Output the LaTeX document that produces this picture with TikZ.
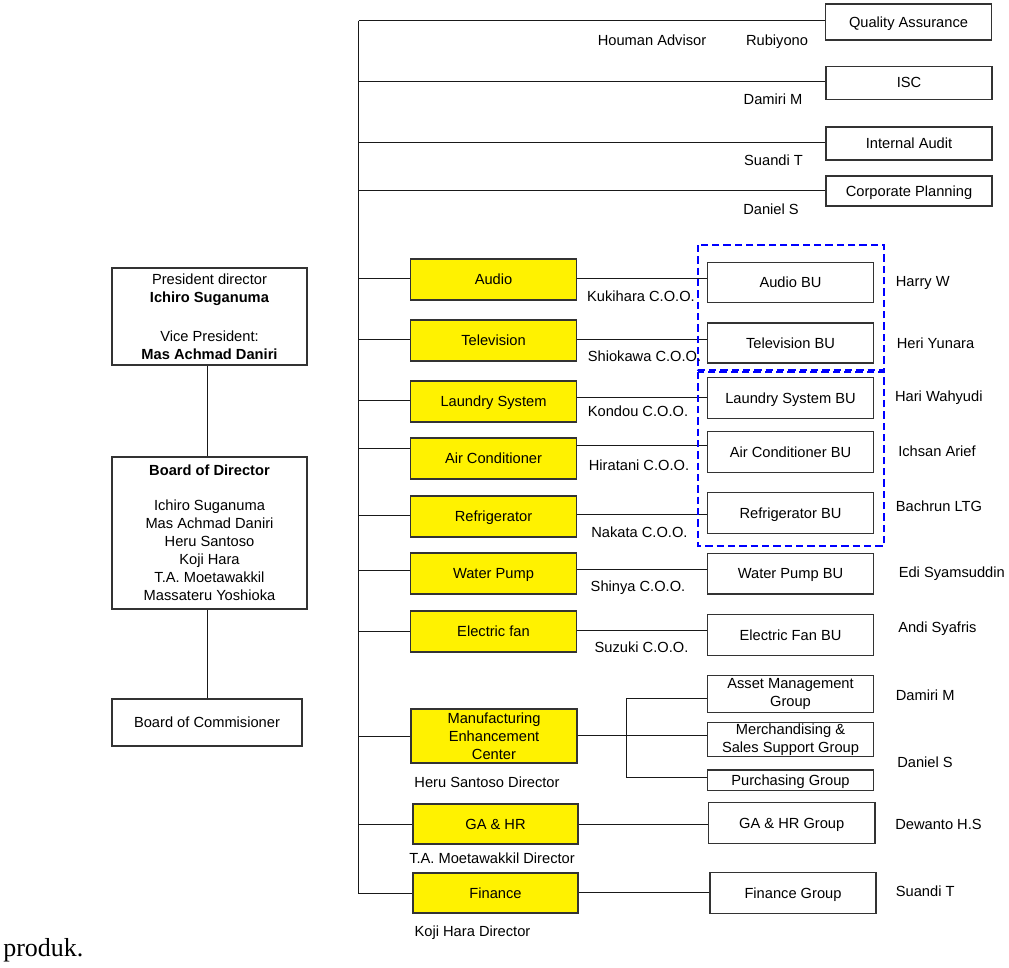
\documentclass[tikz,border=0pt]{standalone}
\usepackage{fontspec}
\setmainfont{Liberation Sans}
\newfontfamily\serifprod{Liberation Serif}
\newcommand\fs{\fontsize{11}{13.5}\selectfont}
\begin{document}
\begin{tikzpicture}[x=0.75pt,y=-0.75pt,
  bx/.style={draw=black!80, line width=0.9pt, fill=white, inner sep=0pt, align=center, font=\fs},
  one/.style={text height=7.9pt, text depth=0pt},
  yb/.style={bx, fill=yellow},
  bw/.style={minimum width=#1*0.75pt},
  bh/.style={minimum height=#1*0.75pt},
  lb/.style={font=\fs, inner sep=0pt, anchor=base},
  lbw/.style={font=\fs, inner sep=0pt, anchor=base west},
  ln/.style={line width=0.75pt, black!90},
  bd/.style={draw=blue, line width=1.5pt, dash pattern=on 5.5pt off 3pt}]
\useasboundingbox (0,0) rectangle (1009,967);

% ---- left column ----
\node[bx, bw=195, bh=97] (pres) at (209.5,316.5) {President director\\\textbf{Ichiro Suganuma}\\[15.75pt]Vice President:\\\textbf{Mas Achmad Daniri}};
\node[bx, bw=195, bh=152] (bod) at (209.5,533) {\textbf{Board of Director}\\[13pt]Ichiro Suganuma\\Mas Achmad Daniri\\Heru Santoso\\Koji Hara\\T.A. Moetawakkil\\Massateru Yoshioka};
\node[bx, one, bw=190, bh=47] (boc) at (207,722.5) {Board of Commisioner};
\coordinate (vx) at (207,0);
\draw[ln] (pres.south -| vx) -- (bod.north -| vx);
\draw[ln] (bod.south -| vx) -- (boc.north -| vx);

% ---- top right boxes ----
\node[bx, one, bw=166, bh=36] (qa)  at (908.5,22) {Quality Assurance};
\node[bx, one, bw=166, bh=33] (isc) at (909,82.7) {ISC};
\node[bx, one, bw=166, bh=33] (ia)  at (909,143.4) {Internal Audit};
\node[bx, one, bw=166, bh=30] (cp)  at (909,191) {Corporate Planning};

% ---- yellow units ----
\node[yb, one, bw=166, bh=41] (audio)   at (493.5,279.5) {Audio};
\node[yb, one, bw=166, bh=41] (tv)      at (493.5,340.5) {Television};
\node[yb, one, bw=166, bh=41] (laundry) at (493.5,401.5) {Laundry System};
\node[yb, one, bw=166, bh=41] (ac)      at (493.5,458.5) {Air Conditioner};
\node[yb, one, bw=166, bh=41] (fridge)  at (493.5,516.5) {Refrigerator};
\node[yb, one, bw=166, bh=41] (wp)      at (493.5,573.5) {Water Pump};
\node[yb, one, bw=166, bh=41] (fan)     at (493.5,631.5) {Electric fan};
\node[yb, bw=166, bh=54] (mec)     at (494,736) {Manufacturing\\Enhancement\\Center};
\node[yb, one, bw=165, bh=40] (ga)      at (495.5,824) {GA \& HR};
\node[yb, one, bw=165, bh=40] (fin)     at (495.5,893) {Finance};

% ---- BU boxes ----
\node[bx, one, bw=166, bh=40] (audiobu)   at (790.5,282.7) {Audio BU};
\node[bx, one, bw=166, bh=40] (tvbu)      at (790.5,343) {Television BU};
\node[bx, one, bw=166, bh=40.6] (laundrybu) at (790.5,398) {Laundry System BU};
\node[bx, one, bw=166, bh=40.6] (acbu)    at (790.5,452) {Air Conditioner BU};
\node[bx, one, bw=166, bh=41] (fridgebu)  at (790.5,512.8) {Refrigerator BU};
\node[bx, one, bw=166, bh=40.7] (wpbu)    at (790.5,573.7) {Water Pump BU};
\node[bx, one, bw=166, bh=41] (fanbu)     at (790.5,634.8) {Electric Fan BU};
\node[bx, bw=166, bh=37.4] (asset)   at (790.5,694) {Asset Management\\Group};
\node[bx, bw=166, bh=34.4] (merch)   at (790.5,739.5) {Merchandising \&\\Sales Support Group};
\node[bx, one, bw=166, bh=20.3] (purch)   at (790.5,780.2) {Purchasing Group};
\node[bx, one, bw=166.5, bh=41] (gabu)    at (791.7,822.8) {GA \& HR Group};
\node[bx, one, bw=166, bh=40.6] (finbu)   at (793,893) {Finance Group};

% ---- spine ----
\coordinate (spT) at (358.5,20.5);
\coordinate (spB) at (358.5,893.5);
\draw[ln] (spT) -- (spB);
\draw[ln] (spT) -- (qa.west |- spT);
\draw[ln] (spT |- 0,81.7)  -- (isc.west |- 0,81.7);
\draw[ln] (spT |- 0,142.7) -- (ia.west |- 0,142.7);
\draw[ln] (spT |- 0,190.7) -- (cp.west |- 0,190.7);
\draw[ln] (spT |- 0,278.7) -- (audio.west |- 0,278.7);
\draw[ln] (spT |- 0,339.3) -- (tv.west |- 0,339.3);
\draw[ln] (spT |- 0,400.7) -- (laundry.west |- 0,400.7);
\draw[ln] (spT |- 0,448.3) -- (ac.west |- 0,448.3);
\draw[ln] (spT |- 0,515.7) -- (fridge.west |- 0,515.7);
\draw[ln] (spT |- 0,570.7) -- (wp.west |- 0,570.7);
\draw[ln] (spT |- 0,631)   -- (fan.west |- 0,631);
\draw[ln] (spT |- 0,736)   -- (mec.west |- 0,736);
\draw[ln] (spT |- 0,824)   -- (ga.west |- 0,824);
\draw[ln] (spT |- 0,893)   -- (fin.west |- 0,893);

% ---- unit to BU ----
\draw[ln] (audio.east |- 0,278.7)   -- (audiobu.west |- 0,278.7);
\draw[ln] (tv.east |- 0,339.3)      -- (tvbu.west |- 0,339.3);
\draw[ln] (laundry.east |- 0,397.3) -- (laundrybu.west |- 0,397.3);
\draw[ln] (ac.east |- 0,445.3)      -- (acbu.west |- 0,445.3);
\draw[ln] (fridge.east |- 0,514)    -- (fridgebu.west |- 0,514);
\draw[ln] (wp.east |- 0,569)        -- (wpbu.west |- 0,569);
\draw[ln] (fan.east |- 0,630.3)     -- (fanbu.west |- 0,630.3);
\draw[ln] (mec.east |- 0,735.7)     -- (merch.west |- 0,735.7);
\draw[ln] (ga.east |- 0,824)        -- (gabu.west |- 0,824);
\draw[ln] (fin.east |- 0,892.7)     -- (finbu.west |- 0,892.7);
\coordinate (brk) at (626,0);
\draw[ln] (brk |- 0,698) -- (brk |- 0,777.3);
\draw[ln] (brk |- 0,698) -- (asset.west |- 0,698);
\draw[ln] (brk |- 0,777.3) -- (purch.west |- 0,777.3);

% ---- dashed groups ----
\draw[bd] (698,245) rectangle (884,370);
\draw[bd] (698,372) rectangle (884,546);

% ---- labels ----
\node[lb] (t1) at (652,45) {Houman Advisor};
\node[lb] (t2) at (777,45) {Rubiyono};
\node[lb] (t3) at (773,104) {Damiri M};
\node[lb] (t4) at (773.5,165) {Suandi T};
\node[lb] (t5) at (771,214) {Daniel S};

\node[lb] (c1) at (641,301) {Kukihara C.O.O.};
\node[lb] (c2) at (644.5,361.7) {Shiokawa C.O.O.};
\node[lb] (c3) at (638,416) {Kondou C.O.O.};
\node[lb] (c4) at (639,470) {Hiratani C.O.O.};
\node[lb] (c5) at (639.4,537.7) {Nakata C.O.O.};
\node[lb] (c6) at (638,591.7) {Shinya C.O.O.};
\node[lb] (c7) at (641.5,652.7) {Suzuki C.O.O.};
\node[lb] (d1) at (487,787.7) {Heru Santoso Director};
\node[lb] (d2) at (492,863) {T.A. Moetawakkil Director};
\node[lb] (d3) at (472.5,936.7) {Koji Hara Director};

\node[lbw] (n1)  at (895.6,286.7) {Harry W};
\node[lbw] (n2)  at (896.5,348.3) {Heri Yunara};
\node[lbw] (n3)  at (894.8,401.7) {Hari Wahyudi};
\node[lbw] (n4)  at (898,456.7) {Ichsan Arief};
\node[lbw] (n5)  at (895.6,511) {Bachrun LTG};
\node[lbw] (n6)  at (898.5,577.7) {Edi Syamsuddin};
\node[lbw] (n7)  at (898,632.7) {Andi Syafris};
\node[lbw] (n8)  at (895.6,700) {Damiri M};
\node[lbw] (n9)  at (897,767.3) {Daniel S};
\node[lbw] (n10) at (895,829) {Dewanto H.S};
\node[lbw] (n11) at (895.6,896.7) {Suandi T};

\node[anchor=base west, inner sep=0pt, font=\serifprod\fontsize{19.5}{22}\selectfont] (prod) at (3,956) {produk.};
\end{tikzpicture}
\end{document}
